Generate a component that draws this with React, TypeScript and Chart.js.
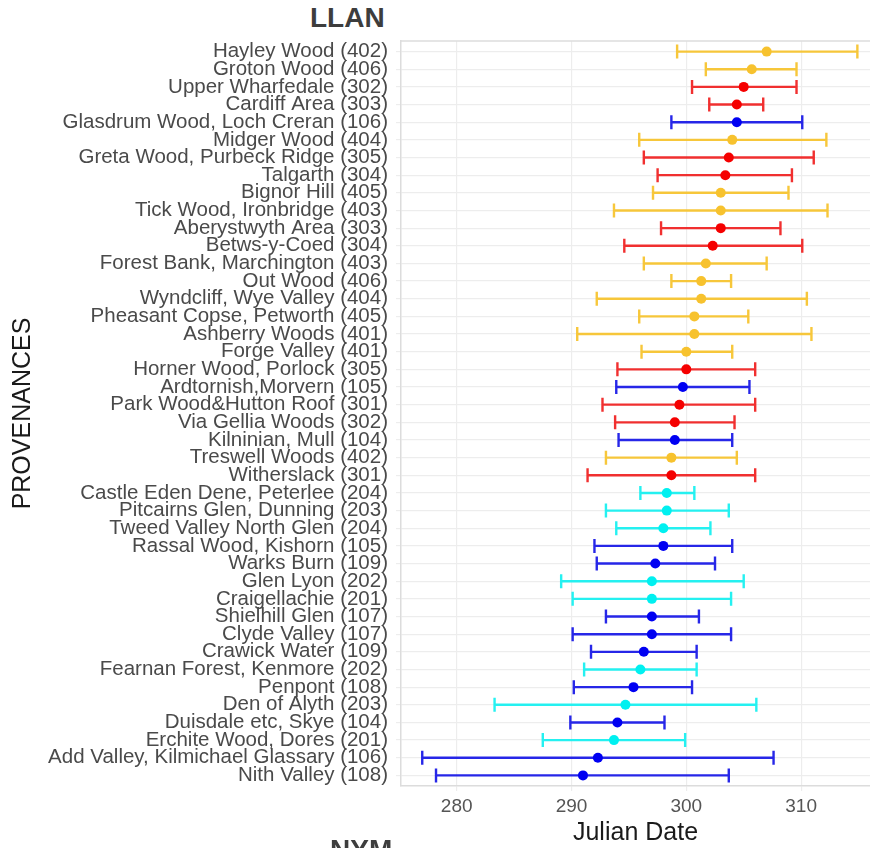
import { useEffect, useRef } from "react";
import { Chart, registerables } from "chart.js";

Chart.register(...registerables);

// Provenances, top to bottom; the digit group in brackets is the seed zone code.
const provenances = [
  "Hayley Wood (402)",
  "Groton Wood (406)",
  "Upper Wharfedale (302)",
  "Cardiff Area (303)",
  "Glasdrum Wood, Loch Creran (106)",
  "Midger Wood (404)",
  "Greta Wood, Purbeck Ridge (305)",
  "Talgarth (304)",
  "Bignor Hill (405)",
  "Tick Wood, Ironbridge (403)",
  "Aberystwyth Area (303)",
  "Betws-y-Coed (304)",
  "Forest Bank, Marchington (403)",
  "Out Wood (406)",
  "Wyndcliff, Wye Valley (404)",
  "Pheasant Copse, Petworth (405)",
  "Ashberry Woods (401)",
  "Forge Valley (401)",
  "Horner Wood, Porlock (305)",
  "Ardtornish,Morvern (105)",
  "Park Wood&Hutton Roof (301)",
  "Via Gellia Woods (302)",
  "Kilninian, Mull (104)",
  "Treswell Woods (402)",
  "Witherslack (301)",
  "Castle Eden Dene, Peterlee (204)",
  "Pitcairns Glen, Dunning (203)",
  "Tweed Valley North Glen (204)",
  "Rassal Wood, Kishorn (105)",
  "Warks Burn (109)",
  "Glen Lyon (202)",
  "Craigellachie (201)",
  "Shielhill Glen (107)",
  "Clyde Valley (107)",
  "Crawick Water (109)",
  "Fearnan Forest, Kenmore (202)",
  "Penpont (108)",
  "Den of Alyth (203)",
  "Duisdale etc, Skye (104)",
  "Erchite Wood, Dores (201)",
  "Add Valley, Kilmichael Glassary (106)",
  "Nith Valley (108)",
];

// Mean Julian date per provenance
const meanDate = [
  307.0, 305.7, 305.0, 304.4, 304.4, 304.0, 303.7, 303.4, 303.0, 303.0,
  303.0, 302.3, 301.7, 301.3, 301.3, 300.7, 300.7, 300.0, 300.0, 299.7,
  299.4, 299.0, 299.0, 298.7, 298.7, 298.3, 298.3, 298.0, 298.0, 297.3,
  297.0, 297.0, 297.0, 297.0, 296.3, 296.0, 295.4, 294.7, 294.0, 293.7,
  292.3, 291.0,
];

// Lower end of the interval
const lowDate = [
  299.2, 301.7, 300.5, 302.0, 298.7, 295.9, 296.3, 297.5, 297.1, 293.7,
  297.8, 294.6, 296.3, 298.7, 292.2, 295.9, 290.5, 296.1, 294.0, 293.9,
  292.7, 293.8, 294.1, 293.0, 291.4, 296.0, 293.0, 293.9, 292.0, 292.2,
  289.1, 290.1, 293.0, 290.1, 291.7, 291.1, 290.2, 283.3, 289.9, 287.5,
  277.0, 278.2,
];

// Upper end of the interval
const highDate = [
  314.9, 309.6, 309.6, 306.7, 310.1, 312.2, 311.1, 309.2, 308.9, 312.3,
  308.2, 310.1, 307.0, 303.9, 310.5, 305.4, 310.9, 304.0, 306.0, 305.5,
  306.0, 304.2, 304.0, 304.4, 306.0, 300.7, 303.7, 302.1, 304.0, 302.5,
  305.0, 303.9, 301.1, 303.9, 300.9, 300.9, 300.5, 306.1, 298.1, 299.9,
  307.6, 303.7,
];

const xTickValues = [280, 290, 300, 310];

// Colour by leading digit of the zone code
const pointColors: Record<string, string> = {
  "1": "#0000F2",
  "2": "#00F0F0",
  "3": "#F50000",
  "4": "#F7C22E",
};
const barColors: Record<string, string> = {
  "1": "rgba(15,15,230,0.9)",
  "2": "rgba(25,240,240,0.95)",
  "3": "rgba(240,25,25,0.9)",
  "4": "rgba(247,196,48,0.95)",
};

const zoneOf = (name: string) => {
  const m = name.match(/\((\d)\d\d\)$/);
  return m ? m[1] : "1";
};

const FONT = "'Liberation Sans', Arial, Helvetica, sans-serif";
const GRID = "#EDEDED";
const FRAME = "#DCDCDC";

// The panel runs on past the right edge of the page, so the canvas is a
// little wider than the visible frame.
const CANVAS_W = 875;
const CANVAS_H = 848;

const errorBarPlugin = {
  id: "errorBars",
  beforeDatasetsDraw(chart: any) {
    const { ctx, chartArea, scales } = chart;
    const x = scales.x;
    const y = scales.y;

    // top edge of the panel frame
    ctx.save();
    ctx.strokeStyle = FRAME;
    ctx.lineWidth = 1.5;
    ctx.beginPath();
    ctx.moveTo(chartArea.left, chartArea.top);
    ctx.lineTo(chartArea.right, chartArea.top);
    ctx.stroke();
    ctx.restore();

    ctx.save();
    ctx.lineWidth = 2.4;
    ctx.lineCap = "butt";
    const cap = 7;
    provenances.forEach((name, i) => {
      const py = y.getPixelForValue(i);
      const x1 = x.getPixelForValue(lowDate[i]);
      const x2 = x.getPixelForValue(highDate[i]);
      ctx.strokeStyle = barColors[zoneOf(name)];
      ctx.beginPath();
      ctx.moveTo(x1, py);
      ctx.lineTo(x2, py);
      ctx.moveTo(x1, py - cap);
      ctx.lineTo(x1, py + cap);
      ctx.moveTo(x2, py - cap);
      ctx.lineTo(x2, py + cap);
      ctx.stroke();
    });
    ctx.restore();
  },
};

export default function App() {
  const canvasRef = useRef<HTMLCanvasElement | null>(null);

  useEffect(() => {
    const canvas = canvasRef.current;
    if (!canvas) return;

    const points = provenances.map((_, i) => ({ x: meanDate[i], y: i }));
    const colors = provenances.map((name) => pointColors[zoneOf(name)]);

    const chart = new Chart(canvas, {
      type: "scatter",
      data: {
        datasets: [
          {
            data: points,
            pointRadius: 5,
            pointHoverRadius: 5,
            pointBackgroundColor: colors,
            pointBorderColor: colors,
            pointBorderWidth: 0,
          },
        ],
      },
      plugins: [errorBarPlugin],
      options: {
        responsive: false,
        devicePixelRatio: 1,
        animation: false,
        layout: { padding: { top: 41, left: 0, right: 0, bottom: 0 } },
        plugins: {
          legend: { display: false },
          tooltip: { enabled: false },
        },
        scales: {
          x: {
            type: "linear",
            min: 275.15,
            max: 316.0,
            afterBuildTicks: (axis: any) => {
              axis.ticks = xTickValues.map((v) => ({ value: v }));
            },
            afterFit: (axis: any) => {
              axis.height = 62;
              axis.paddingLeft = 0;
              axis.paddingRight = 0;
            },
            grid: {
              color: GRID,
              lineWidth: 1.2,
              drawTicks: true,
              tickLength: 5,
              tickColor: GRID,
            },
            border: { display: true, color: FRAME, width: 1.5 },
            ticks: {
              padding: 4,
              color: "#555555",
              font: { family: FONT, size: 19 },
              callback: (v: any) => String(v),
            },
            title: {
              display: true,
              text: "Julian Date",
              color: "#1A1A1A",
              font: { family: FONT, size: 25 },
              padding: { top: 0, bottom: 0 },
            },
          },
          y: {
            type: "linear",
            reverse: true,
            min: -0.6,
            max: provenances.length - 0.4,
            afterBuildTicks: (axis: any) => {
              axis.ticks = provenances.map((_, i) => ({ value: i }));
            },
            afterFit: (axis: any) => {
              axis.width = 401;
              axis.paddingTop = 0;
              axis.paddingBottom = 0;
            },
            grid: {
              color: GRID,
              lineWidth: 1.2,
              drawTicks: true,
              tickLength: 5,
              tickColor: GRID,
            },
            border: { display: true, color: FRAME, width: 1.5 },
            ticks: {
              padding: 8,
              color: "#4A4A4A",
              font: { family: FONT, size: 20.5 },
              autoSkip: false,
              callback: (v: any) => provenances[Math.round(Number(v))] ?? "",
            },
            title: {
              display: true,
              text: "PROVENANCES",
              color: "#1A1A1A",
              font: { family: FONT, size: 25 },
              padding: { top: 8, bottom: 0 },
            },
          },
        },
      },
    });

    return () => chart.destroy();
  }, []);

  return (
    <div
      style={{
        position: "absolute",
        left: 0,
        top: 0,
        width: 870,
        height: 848,
        overflow: "hidden",
        background: "#FFFFFF",
      }}
    >
      <div
        style={{
          position: "absolute",
          left: 310,
          top: 4,
          fontFamily: FONT,
          fontWeight: "bold",
          fontSize: 28,
          lineHeight: 1,
          color: "#3D3D3D",
        }}
      >
        LLAN
      </div>
      <canvas
        ref={canvasRef}
        width={CANVAS_W}
        height={CANVAS_H}
        style={{ position: "absolute", left: 0, top: 0, width: CANVAS_W, height: CANVAS_H }}
      />
      <div
        style={{
          position: "absolute",
          left: 330,
          top: 836,
          fontFamily: FONT,
          fontWeight: "bold",
          fontSize: 28,
          lineHeight: 1,
          color: "#3D3D3D",
        }}
      >
        NYM
      </div>
    </div>
  );
}
